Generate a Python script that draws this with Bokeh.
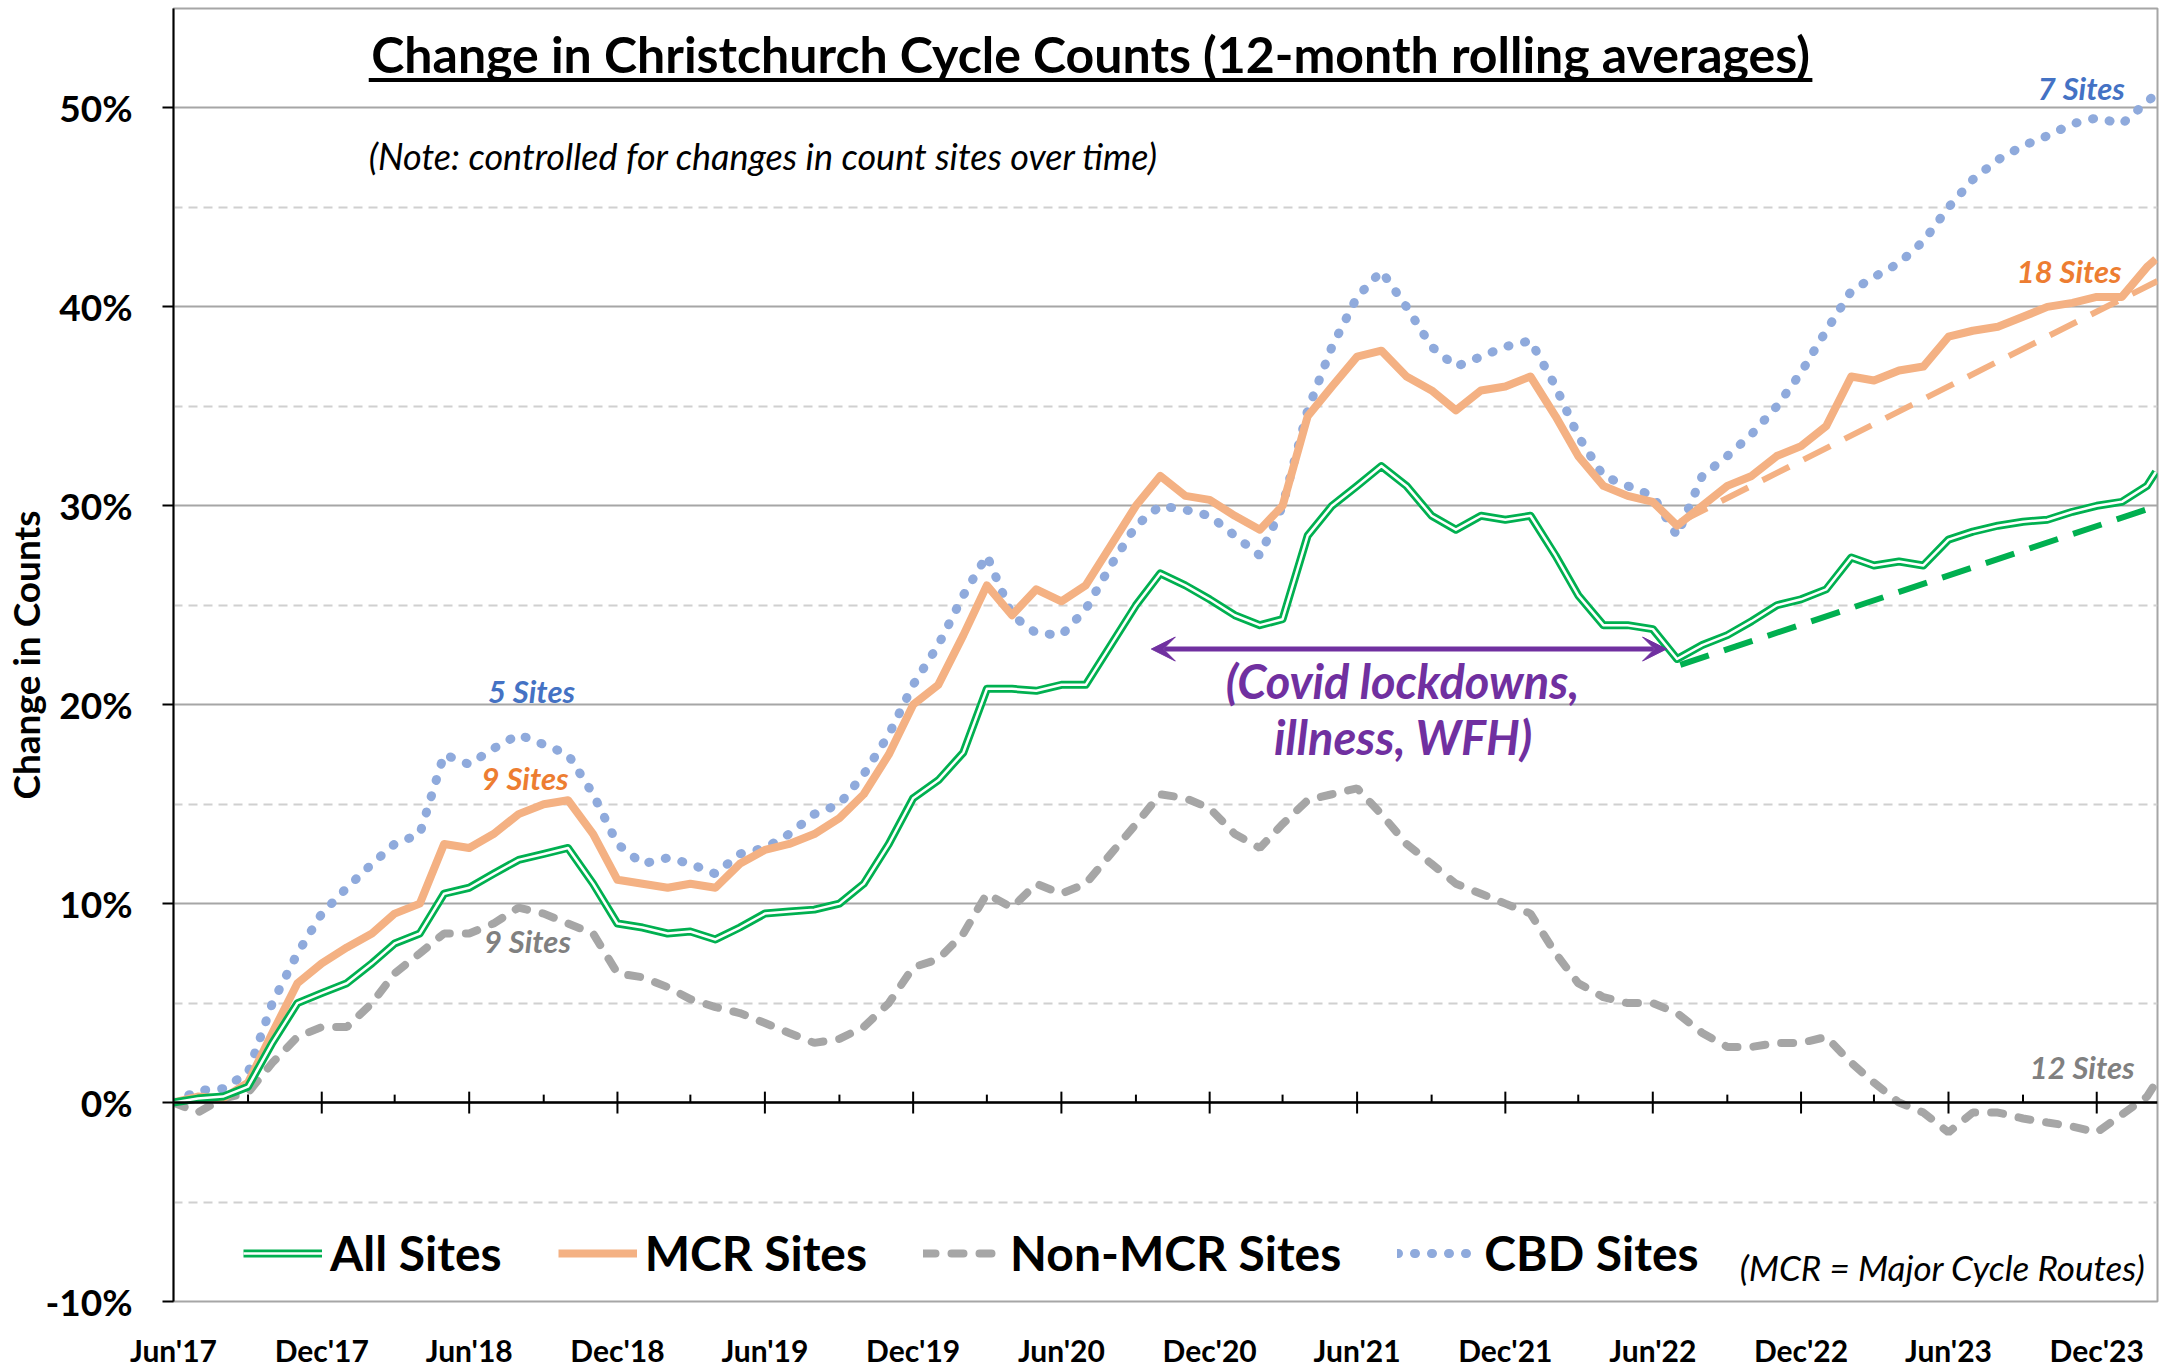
import pandas as pd
from bokeh.plotting import figure
from bokeh.models import (Range1d, FixedTicker, PrintfTickFormatter, DatetimeTickFormatter,
                          Span, Label, Legend, LegendItem, Arrow, VeeHead, ColumnDataSource)
from bokeh.embed import file_html
from bokeh.resources import INLINE

# ---------------- data ----------------
dates = pd.date_range("2017-06-01", "2024-02-01", freq="MS").tolist() + [pd.Timestamp("2024-02-12")]

all_sites = [0, 0.2, 0.3, 0.8, 3.0, 5.0, 5.5,
             6.0, 7.0, 8.0, 8.5, 10.5, 10.8, 11.5, 12.2, 12.5, 12.8, 11.0, 9.0,
             8.8, 8.5, 8.6, 8.2, 8.8, 9.5, 9.6, 9.7, 10.0, 11.0, 13.0, 15.3,
             16.2, 17.6, 20.8, 20.8, 20.7, 21.0, 21.0, 23.0, 25.0, 26.6, 26.0, 25.3,
             24.5, 24.0, 24.3, 28.5, 30.0, 31.0, 32.0, 31.0, 29.5, 28.8, 29.5, 29.3,
             29.5, 27.5, 25.5, 24.0, 24.0, 23.8, 22.3, 23.0, 23.5, 24.2, 25.0, 25.3,
             25.8, 27.4, 27.0, 27.2, 27.0, 28.3, 28.7, 29.0, 29.2, 29.3, 29.7, 30.0,
             30.2, 31.0, 31.7]

mcr_sites = [0, 0.3, 0.2, 1.0, 3.5, 6.0, 7.0,
             7.8, 8.5, 9.5, 10.0, 13.0, 12.8, 13.5, 14.5, 15.0, 15.2, 13.5, 11.2,
             11.0, 10.8, 11.0, 10.8, 12.0, 12.7, 13.0, 13.5, 14.3, 15.5, 17.5, 20.0,
             21.0, 23.5, 26.0, 24.5, 25.8, 25.2, 26.0, 28.0, 30.0, 31.5, 30.5, 30.3,
             29.5, 28.8, 30.0, 34.5, 36.0, 37.5, 37.8, 36.5, 35.8, 34.8, 35.8, 36.0,
             36.5, 34.5, 32.5, 31.0, 30.5, 30.2, 29.0, 30.0, 31.0, 31.5, 32.5, 33.0,
             34.0, 36.5, 36.3, 36.8, 37.0, 38.5, 38.8, 39.0, 39.5, 40.0, 40.2, 40.5,
             40.5, 42.0, 42.4]

non_mcr_sites = [0, -0.5, 0.2, 0.5, 2.0, 3.3, 3.8,
                 3.8, 5.0, 6.5, 7.5, 8.5, 8.5, 9.0, 9.8, 9.5, 9.0, 8.5, 6.5,
                 6.3, 5.8, 5.2, 4.8, 4.5, 4.0, 3.5, 3.0, 3.2, 3.8, 5.0, 6.8,
                 7.2, 8.5, 10.5, 9.8, 11.0, 10.5, 11.0, 12.5, 14.0, 15.5, 15.3, 14.8,
                 13.5, 12.8, 14.0, 15.2, 15.5, 15.8, 14.5, 13.0, 12.0, 11.0, 10.5, 10.0,
                 9.5, 7.5, 6.0, 5.3, 5.0, 5.0, 4.5, 3.5, 2.8, 2.8, 3.0, 3.0,
                 3.3, 2.0, 1.0, 0.0, -0.5, -1.5, -0.5, -0.5, -0.8, -1.0, -1.2, -1.5,
                 -0.6, 0.3, 1.0]

cbd_sites = [0, 0.6, 0.7, 1.5, 5.0, 7.5, 9.5,
             10.8, 12.0, 13.0, 13.5, 17.5, 17.0, 17.8, 18.5, 18.0, 17.5, 15.5, 13.0,
             12.0, 12.3, 12.0, 11.5, 12.5, 12.8, 13.5, 14.5, 15.0, 16.5, 18.5, 21.0,
             23.0, 25.5, 27.5, 24.5, 23.6, 23.5, 24.8, 27.0, 29.0, 30.0, 29.8, 29.5,
             28.5, 27.5, 30.0, 34.8, 38.0, 40.5, 41.8, 40.0, 38.0, 37.0, 37.5, 38.0,
             38.3, 36.0, 33.5, 31.5, 31.0, 30.5, 28.5, 31.5, 32.5, 33.6, 35.0, 36.7,
             38.8, 40.8, 41.5, 42.2, 43.3, 45.0, 46.4, 47.4, 48.1, 48.6, 49.2, 49.5,
             49.2, 50.3, 50.7]

trend_dates = [pd.Timestamp("2022-07-05"), pd.Timestamp("2024-02-14")]
mcr_trend = [29.2, 41.3]
all_trend = [22.0, 30.0]

y_ticks = [-10, 0, 10, 20, 30, 40, 50]
y_minor = [-5, 5, 15, 25, 35, 45]
major_tick_dates = pd.date_range("2017-12-01", "2023-12-01", freq="6MS").tolist()
minor_tick_dates = pd.date_range("2017-09-01", "2023-09-01", freq="6MS").tolist()

site_labels = [("5 Sites", "2018-08-17", 20.7, "#4472C4"),
               ("9 Sites", "2018-08-09", 16.3, "#ED7D31"),
               ("9 Sites", "2018-08-12", 8.1, "#808080"),
               ("7 Sites", "2023-11-12", 51.0, "#4472C4"),
               ("18 Sites", "2023-10-28", 41.8, "#ED7D31"),
               ("12 Sites", "2023-11-13", 1.8, "#808080")]

# ---------------- styling ----------------
FONT = "Lato"
GREEN = "#00B050"
ORANGE = "#F4B183"
GRAY = "#A6A6A6"
BLUE = "#8FAADC"
PURPLE = "#7030A0"


def ms(d):
    return pd.Timestamp(d).value / 1e6


p = figure(width=2165, height=1370, x_axis_type="datetime",
           x_range=Range1d(ms("2017-06-01"), ms("2024-02-14")),
           y_range=Range1d(-10, 55),
           output_backend="svg", toolbar_location=None,
           min_border_left=169, min_border_right=8, min_border_top=8, min_border_bottom=60)
p.background_fill_color = "white"
p.border_fill_color = "white"
p.outline_line_color = "#A6A6A6"
p.outline_line_width = 2

# axes
p.yaxis.ticker = FixedTicker(ticks=y_ticks, minor_ticks=y_minor)
p.yaxis.formatter = PrintfTickFormatter(format="%d%%")
p.yaxis.major_label_text_font = FONT
p.yaxis.major_label_text_font_style = "bold"
p.yaxis.major_label_text_font_size = "37px"
p.yaxis.major_label_text_color = "black"
p.yaxis.axis_line_color = "black"
p.yaxis.axis_line_width = 2
p.yaxis.major_tick_line_color = "black"
p.yaxis.major_tick_line_width = 2
p.yaxis.major_tick_out = 11
p.yaxis.major_tick_in = 0
p.yaxis.minor_tick_line_color = None
p.yaxis.major_label_standoff = 30
p.yaxis.axis_label = "Change in Counts"
p.yaxis.axis_label_text_font = FONT
p.yaxis.axis_label_text_font_style = "bold"
p.yaxis.axis_label_text_font_size = "37px"
p.yaxis.axis_label_text_color = "black"
p.yaxis.axis_label_standoff = -6

p.xaxis.ticker = FixedTicker(ticks=[ms(d) for d in pd.date_range("2017-06-01", "2023-12-01", freq="6MS")])
fmt = "%b'%y"
p.xaxis.formatter = DatetimeTickFormatter(months=fmt, days=fmt, years=fmt, hours=fmt, minutes=fmt)
p.xaxis.major_label_text_font = FONT
p.xaxis.major_label_text_font_style = "bold"
p.xaxis.major_label_text_font_size = "30px"
p.xaxis.major_label_text_color = "black"
p.xaxis.axis_line_color = None
p.xaxis.major_tick_line_color = None
p.xaxis.minor_tick_line_color = None
p.xaxis.major_label_standoff = 24

# grid
p.xgrid.grid_line_color = None
p.ygrid.ticker = p.yaxis.ticker
p.ygrid.grid_line_color = "#A6A6A6"
p.ygrid.grid_line_width = 2
p.ygrid.minor_grid_line_color = "#D0D0D0"
p.ygrid.minor_grid_line_width = 2
p.ygrid.minor_grid_line_dash = "9 6"

# zero axis with ticks
p.add_layout(Span(location=0, dimension="width", line_color="black", line_width=2.5))
p.segment(x0=major_tick_dates, y0=[-0.55] * len(major_tick_dates),
          x1=major_tick_dates, y1=[0.55] * len(major_tick_dates), line_color="black", line_width=2)
p.segment(x0=minor_tick_dates, y0=[0] * len(minor_tick_dates),
          x1=minor_tick_dates, y1=[0.4] * len(minor_tick_dates), line_color="black", line_width=2)

src = ColumnDataSource(dict(date=dates, all=all_sites, mcr=mcr_sites, non=non_mcr_sites, cbd=cbd_sites))

# trend lines
p.line(trend_dates, mcr_trend, line_color=ORANGE, line_width=6, line_dash="30 16")
p.line(trend_dates, all_trend, line_color=GREEN, line_width=6, line_dash="30 16")

r_non = p.line("date", "non", source=src, line_color=GRAY, line_width=8, line_dash="12 16", line_cap="round")
r_cbd = p.line("date", "cbd", source=src, line_color=BLUE, line_width=9, line_dash="1 16", line_cap="round")
r_mcr = p.line("date", "mcr", source=src, line_color=ORANGE, line_width=8, line_join="round")
r_all1 = p.line("date", "all", source=src, line_color=GREEN, line_width=8, line_join="round")
r_all2 = p.line("date", "all", source=src, line_color="white", line_width=2.5, line_join="round")

legend = Legend(items=[LegendItem(label="All Sites", renderers=[r_all1, r_all2]),
                       LegendItem(label="MCR Sites", renderers=[r_mcr]),
                       LegendItem(label="Non-MCR Sites", renderers=[r_non]),
                       LegendItem(label="CBD Sites", renderers=[r_cbd])],
                orientation="horizontal", location=(70, 20),
                label_text_font=FONT, label_text_font_style="bold", label_text_font_size="48px",
                label_text_color="black", glyph_width=79, glyph_height=50, spacing=56,
                label_standoff=8, padding=0, margin=0,
                border_line_color=None, background_fill_alpha=0)
p.add_layout(legend)

# texts
p.add_layout(Label(x=ms("2020-07-07"), y=52.7, text="Change in Christchurch Cycle Counts (12-month rolling averages)",
                   text_font=FONT, text_font_style="bold", text_font_size="50px", text_color="black",
                   text_align="center", text_baseline="middle"))
p.segment(x0=[ms("2018-01-28")], y0=[51.4], x1=[ms("2022-12-15")], y1=[51.4], line_color="black", line_width=4)
p.add_layout(Label(x=ms("2018-01-28"), y=47.6, text="(Note: controlled for changes in count sites over time)",
                   text_font=FONT, text_font_style="italic", text_font_size="36px", text_color="black",
                   text_align="left", text_baseline="middle"))
p.add_layout(Label(x=ms("2024-01-30"), y=-8.25, text="(MCR = Major Cycle Routes)",
                   text_font=FONT, text_font_style="italic", text_font_size="35px", text_color="black",
                   text_align="right", text_baseline="middle"))
for txt, d, yv, col in site_labels:
    p.add_layout(Label(x=ms(d), y=yv, text=txt, text_font=FONT, text_font_style="bold italic",
                       text_font_size="31px", text_color=col, text_align="center", text_baseline="middle"))

p.add_layout(Arrow(start=VeeHead(size=24, fill_color=PURPLE, line_color=PURPLE),
                   end=VeeHead(size=24, fill_color=PURPLE, line_color=PURPLE),
                   x_start=ms("2020-09-20"), y_start=22.8, x_end=ms("2022-06-18"), y_end=22.8,
                   line_color=PURPLE, line_width=5))
p.add_layout(Label(x=ms("2021-07-27"), y=21.2, text="(Covid lockdowns,", text_font=FONT,
                   text_font_style="bold italic", text_font_size="47px", text_color=PURPLE,
                   text_align="center", text_baseline="middle"))
p.add_layout(Label(x=ms("2021-07-28"), y=18.4, text="illness, WFH)", text_font=FONT,
                   text_font_style="bold italic", text_font_size="47px", text_color=PURPLE,
                   text_align="center", text_baseline="middle"))

open("out.html", "w").write(file_html(p, INLINE))
